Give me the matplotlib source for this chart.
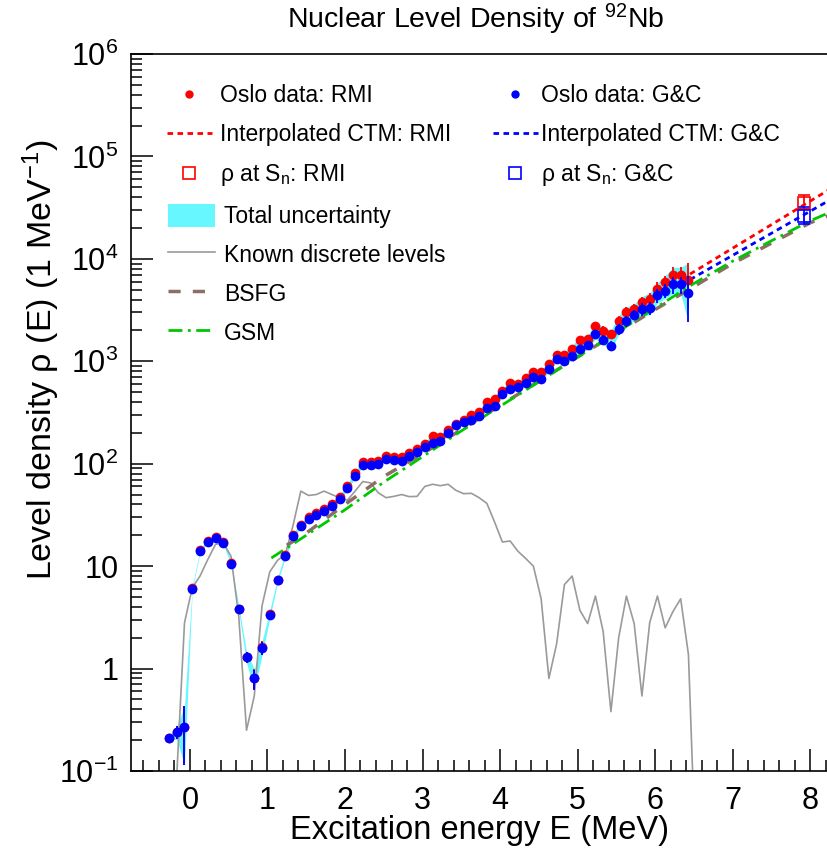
import numpy as np
import matplotlib
matplotlib.use('Agg')
import matplotlib.pyplot as plt
from matplotlib import font_manager
from matplotlib.lines import Line2D
from matplotlib.patches import Patch
from matplotlib.ticker import MultipleLocator, LogLocator, FuncFormatter, NullFormatter

# font: narrow helvetica-like if we have it
names = {f.name for f in font_manager.fontManager.ttflist}
font = 'Liberation Sans Narrow' if 'Liberation Sans Narrow' in names else 'Liberation Sans'
plt.rcParams['font.family'] = [font, 'DejaVu Sans']
plt.rcParams['mathtext.fontset'] = 'custom'
plt.rcParams['mathtext.rm'] = font
plt.rcParams['mathtext.it'] = font
plt.rcParams['mathtext.sf'] = font

# ---- Oslo data (bin centres in MeV) ----
energy = [-0.27, -0.17, -0.07, 0.03, 0.13, 0.23, 0.33, 0.43, 0.53, 0.63,
          0.73, 0.83, 0.93, 1.03, 1.13, 1.23, 1.33, 1.43, 1.53, 1.63,
          1.73, 1.83, 1.93, 2.03, 2.13, 2.23, 2.33, 2.43, 2.53, 2.63,
          2.73, 2.83, 2.93, 3.03, 3.13, 3.23, 3.33, 3.43, 3.53, 3.63,
          3.73, 3.83, 3.93, 4.03, 4.13, 4.23, 4.33, 4.43, 4.53, 4.63,
          4.73, 4.83, 4.93, 5.03, 5.13, 5.23, 5.33, 5.43, 5.53, 5.63,
          5.73, 5.83, 5.93, 6.03, 6.13, 6.23, 6.33, 6.43]
rho_rmi = [0.21, 0.24, 0.27, 6.1, 14.4, 17.5, 19.1, 17.2, 10.8, 3.85,
           1.31, 0.81, 1.61, 3.42, 7.4, 12.9, 20.3, 25.2, 30.2, 32.7,
           36.5, 40.8, 47.6, 61, 81, 104, 104, 106, 119, 116,
           115, 128, 140, 157, 186, 182, 215, 243, 267, 297,
           321, 400, 425, 514, 620, 600, 690, 790, 780, 935,
           1150, 1150, 1320, 1620, 1640, 2190, 1990, 1830, 2480, 3030,
           3230, 3760, 4060, 5070, 5900, 6930, 6930, 6200]
rho_gc = [0.21, 0.24, 0.27, 6.0, 14.2, 17.2, 18.8, 16.9, 10.6, 3.8,
          1.29, 0.80, 1.58, 3.35, 7.25, 12.6, 19.8, 24.4, 29, 31.3,
          34.8, 38.6, 44.9, 57.5, 76, 98, 98, 100, 112, 109,
          106, 120, 130, 145, 161, 165, 200, 237, 255, 267,
          290, 353, 370, 475, 540, 560, 620, 700, 670, 850,
          1050, 1000, 1130, 1320, 1430, 1830, 1630, 1420, 2070, 2480,
          2850, 3230, 3300, 4400, 4900, 5640, 5640, 4600]
rel_err = [0.04, 0.15, 0.58, 0.03, 0.03, 0.03, 0.03, 0.03, 0.04, 0.06,
           0.12, 0.22, 0.15, 0.08, 0.05, 0.04, 0.04, 0.04, 0.04, 0.04,
           0.04, 0.04, 0.04, 0.04, 0.04, 0.04, 0.04, 0.04, 0.04, 0.04,
           0.04, 0.04, 0.04, 0.05, 0.05, 0.05, 0.05, 0.05, 0.05, 0.05,
           0.05, 0.05, 0.05, 0.05, 0.05, 0.06, 0.06, 0.06, 0.06, 0.06,
           0.06, 0.08, 0.08, 0.08, 0.08, 0.10, 0.10, 0.10, 0.12, 0.12,
           0.12, 0.14, 0.14, 0.16, 0.16, 0.19, 0.19, 0.48]

# ---- known discrete levels ----
disc_energy = [-0.17, -0.07, 0.03, 0.13, 0.23, 0.33, 0.43, 0.53, 0.63, 0.73,
               0.83, 0.93, 1.03, 1.13, 1.23, 1.33, 1.43, 1.53, 1.63, 1.73,
               1.83, 1.93, 2.03, 2.13, 2.23, 2.33, 2.43, 2.53, 2.63, 2.73,
               2.83, 2.93, 3.03, 3.13, 3.23, 3.33, 3.43, 3.53, 3.63, 3.73,
               3.83, 3.93, 4.03, 4.13, 4.23, 4.33, 4.43, 4.53, 4.63, 4.73,
               4.83, 4.93, 5.03, 5.13, 5.23, 5.33, 5.43, 5.53, 5.63, 5.73,
               5.83, 5.93, 6.03, 6.13, 6.23, 6.33, 6.43, 6.53]
disc_rho = [0.09, 2.8, 6.15, 8.0, 11.6, 16.3, 16.9, 12.5, 3.2, 0.25,
            0.54, 4.1, 8.8, 11.4, 13.0, 25, 54, 49, 50, 54,
            50, 46.6, 44, 54, 67, 65, 52, 46.6, 48, 50,
            47.7, 48, 60, 63, 61, 63, 55, 51, 51.4, 46.6,
            41, 26.9, 17.2, 17.6, 14, 11.9, 10, 4.8, 0.8, 1.75,
            6.6, 8.0, 3.7, 2.75, 5.1, 2.3, 0.38, 2.0, 5.1, 2.75,
            0.54, 2.8, 5.1, 2.5, 3.6, 4.8, 1.37, 0.01]

# ---- model curves ----
bsfg_energy = [1.25, 1.5, 2.0, 2.5, 3.0, 3.5, 4.0, 5.0, 6.0, 7.0, 8.0, 8.3]
bsfg_rho = [16, 21, 40, 75, 125, 215, 370, 1100, 3200, 9000, 22500, 27500]
gsm_energy = [1.05, 1.5, 2.0, 2.5, 3.0, 3.5, 4.0, 4.5, 5.0, 5.5, 6.0, 6.5,
              7.0, 7.5, 8.0, 8.3]
gsm_rho = [12, 20, 35.5, 66, 117, 209, 363, 631, 1100, 1900, 3300, 5750,
           9500, 15000, 23500, 29500]

# interpolated CTM from last data point through rho(Sn)
ctm_energy = [6.45, 8.3]
ctm_rmi = [7100, 50300]
ctm_gc = [6270, 39300]

# rho at Sn
sn_energy = [7.92]
sn_rmi = [34800]
sn_rmi_err = [[4000], [7500]]
sn_gc = [26300]
sn_gc_err = [[4600], [5700]]

red = '#ff0000'
blue = '#0000ff'
cyan = '#66f7ff'
grey = '#9a9a9a'
brown = '#8c6e64'
green = '#00c800'

W, H = 828, 857
fig = plt.figure(figsize=(W / 100, H / 100), dpi=100)
fig.patch.set_facecolor('white')
ax = fig.add_axes([131 / W, (H - 771) / H, 1 - 131 / W, (771 - 54) / H])

E = np.array(energy)
r1 = np.array(rho_rmi)
r2 = np.array(rho_gc)
er = np.array(rel_err)
lo = np.minimum(r1 * (1 - er), r2 * (1 - er))
hi = np.maximum(r1 * (1 + er), r2 * (1 + er))

ax.fill_between(E, lo, hi, color=cyan, lw=0, zorder=1)
ax.plot(disc_energy, disc_rho, color=grey, lw=1.2, zorder=2)
ax.plot(bsfg_energy, bsfg_rho, color=brown, lw=2.5, ls=(0, (3.5, 3.5)), zorder=3)
ax.plot(gsm_energy, gsm_rho, color=green, lw=2, ls=(0, (5, 2, 1, 2)), zorder=3)
ax.plot(ctm_energy, ctm_rmi, color=red, lw=2, ls=(0, (2, 1.6)), zorder=3)
ax.plot(ctm_energy, ctm_gc, color=blue, lw=2, ls=(0, (2, 1.6)), zorder=3)

ax.errorbar(E, r1, yerr=r1 * er, fmt='o', color=red, ms=7, mew=0,
            elinewidth=1.3, capsize=3.5, capthick=1.3, zorder=4)
ax.errorbar(E, r2, yerr=r2 * er, fmt='o', color=blue, ms=7, mew=0,
            elinewidth=1.3, capsize=3.5, capthick=1.3, zorder=5)

ax.errorbar(sn_energy, sn_rmi, yerr=sn_rmi_err, fmt='s', mfc='none', mec=red,
            color=red, ms=9, mew=1.2, elinewidth=1.3, capsize=4, capthick=1.3, zorder=6)
ax.errorbar(sn_energy, sn_gc, yerr=sn_gc_err, fmt='s', mfc='none', mec=blue,
            color=blue, ms=9, mew=1.2, elinewidth=1.3, capsize=4, capthick=1.3, zorder=6)

ax.set_yscale('log')
ax.set_ylim(0.1, 1e6)
ax.set_xlim(-0.76, 8.23)
ax.spines['right'].set_visible(False)
for s in ['left', 'bottom', 'top']:
    ax.spines[s].set_linewidth(1.2)

def ylab(v, pos):
    if abs(v - 1) < 1e-9:
        return '1'
    if abs(v - 10) < 1e-9:
        return '10'
    return '$10^{%d}$' % int(round(np.log10(v)))

ax.yaxis.set_major_locator(LogLocator(base=10, numticks=20))
ax.yaxis.set_minor_locator(LogLocator(base=10, subs=np.arange(2, 10), numticks=20))
ax.yaxis.set_major_formatter(FuncFormatter(ylab))
ax.yaxis.set_minor_formatter(NullFormatter())
ax.xaxis.set_major_locator(MultipleLocator(1))
ax.xaxis.set_minor_locator(MultipleLocator(0.2))
ax.tick_params(which='both', direction='in', top=False, right=False, labelsize=22)
ax.tick_params(which='major', length=16, width=1.1)
ax.tick_params(which='minor', length=8, width=1.1)
ax.tick_params(axis='x', pad=11)
ax.tick_params(axis='y', pad=9)

fig.text(476 / W, 1 - 19 / H, 'Nuclear Level Density of $^{92}$Nb',
         ha='center', va='center', fontsize=20.5)
fig.text(480 / W, 1 - 831 / H, 'Excitation energy E (MeV)',
         ha='center', va='center', fontsize=23.5)
fig.text(41 / W, 1 - 360 / H, 'Level density \u03c1 (E) (1 MeV$^{-1}$)',
         ha='center', va='center', rotation=90, fontsize=24.5)

# legends
def fpos(x, y):
    return (x / W, 1 - y / H)

h_rmi = [Line2D([], [], marker='o', ls='none', color=red, ms=6, mew=0),
         Line2D([], [], color=red, lw=2, ls=(0, (2, 1.6))),
         Line2D([], [], marker='s', ls='none', mfc='none', mec=red, ms=8, mew=1.2)]
h_gc = [Line2D([], [], marker='o', ls='none', color=blue, ms=6, mew=0),
        Line2D([], [], color=blue, lw=2, ls=(0, (2, 1.6))),
        Line2D([], [], marker='s', ls='none', mfc='none', mec=blue, ms=8, mew=1.2)]
h_oth = [Patch(facecolor=cyan, edgecolor='none'),
         Line2D([], [], color=grey, lw=1.2),
         Line2D([], [], color=brown, lw=2.5, ls=(0, (3.5, 3.5))),
         Line2D([], [], color=green, lw=2, ls=(0, (5, 2, 1, 2)))]

common = dict(frameon=False, fontsize=16.5, borderpad=0, borderaxespad=0,
              loc='upper left', bbox_transform=fig.transFigure)
leg1 = ax.legend(h_rmi, ['Oslo data: RMI', 'Interpolated CTM: RMI', '\u03c1 at S$_{n}$: RMI'],
                 bbox_to_anchor=fpos(167, 84), handlelength=1.95, handletextpad=0.35,
                 labelspacing=0.7, **common)
ax.add_artist(leg1)
leg2 = ax.legend(h_gc, ['Oslo data: G&C', 'Interpolated CTM: G&C', '\u03c1 at S$_{n}$: G&C'],
                 bbox_to_anchor=fpos(493, 84), handlelength=1.95, handletextpad=0.15,
                 labelspacing=0.7, **common)
ax.add_artist(leg2)
leg3 = ax.legend(h_oth, ['Total uncertainty', 'Known discrete levels', 'BSFG', 'GSM'],
                 bbox_to_anchor=fpos(168, 204), handlelength=2.05, handleheight=1.2,
                 handletextpad=0.4, labelspacing=0.62, **common)

fig.savefig('out.png', dpi=100)
